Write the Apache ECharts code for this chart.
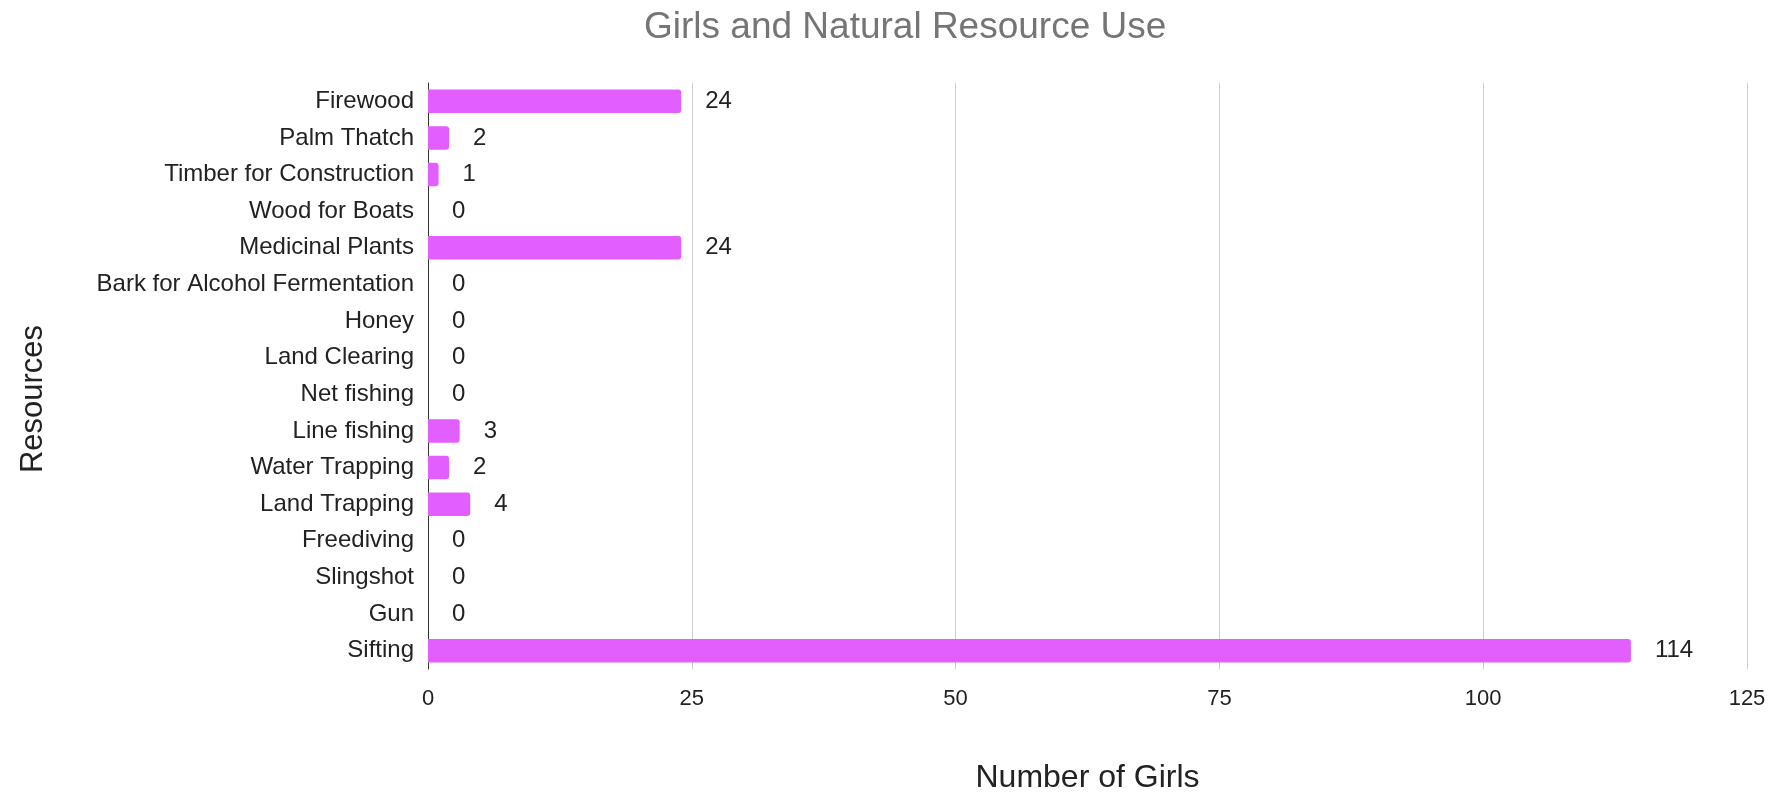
<!DOCTYPE html>
<html>
<head>
<meta charset="utf-8">
<script src="https://cdn.jsdelivr.net/npm/echarts@6/dist/echarts.min.js"></script>
<style>
html,body{margin:0;padding:0;background:#fff;}
#chart{width:1778px;height:793px;}
</style>
</head>
<body>
<div id="chart"></div>
<script>
const chartTitle = "Girls and Natural Resource Use";
const xAxisName = "Number of Girls";
const yAxisName = "Resources";
const categories = ["Firewood","Palm Thatch","Timber for Construction","Wood for Boats","Medicinal Plants","Bark for Alcohol Fermentation","Honey","Land Clearing","Net fishing","Line fishing","Water Trapping","Land Trapping","Freediving","Slingshot","Gun","Sifting"];
const girls = [24,2,1,0,24,0,0,0,0,3,2,4,0,0,0,114];
const xTicks = [0,25,50,75,100,125];

const FONT = "'Liberation Sans', Arial, Helvetica, sans-serif";
const chart = echarts.init(document.getElementById('chart'));
chart.setOption({
  backgroundColor: '#ffffff',
  animation: false,
  textStyle: { fontFamily: FONT },
  title: {
    text: chartTitle,
    left: 644, top: 9, padding: 0,
    textStyle: { fontFamily: FONT, fontSize: 37, fontWeight: 'normal', color: '#757575' }
  },
  grid: { left: 428, right: 31, top: 83, bottom: 124, containLabel: false, outerBoundsMode: 'none' },
  xAxis: {
    type: 'value',
    min: xTicks[0], max: xTicks[xTicks.length - 1], interval: xTicks[1] - xTicks[0],
    name: xAxisName, nameLocation: 'middle', nameGap: 93,
    nameTextStyle: { fontFamily: FONT, fontSize: 32, color: '#222222' },
    axisLine: { show: false },
    axisTick: { show: false },
    axisLabel: { fontFamily: FONT, fontSize: 22, color: '#222222', margin: 19 },
    splitLine: { show: true, lineStyle: { color: '#cccccc', width: 1 } }
  },
  yAxis: {
    type: 'category',
    data: categories,
    inverse: true,
    name: yAxisName, nameLocation: 'middle', nameGap: 379, nameRotate: 90,
    nameTextStyle: { fontFamily: FONT, fontSize: 31, color: '#222222', padding: [0, 46, 0, 0] },
    axisLine: { show: true, lineStyle: { color: '#333333', width: 1 } },
    axisTick: { show: false },
    axisLabel: { fontFamily: FONT, fontSize: 24, color: '#222222', margin: 14 },
    splitLine: { show: false }
  },
  series: [{
    type: 'bar',
    data: girls,
    barWidth: '64%',
    itemStyle: { color: '#E35EFF', borderRadius: [0, 3, 3, 0] },
    label: {
      show: true, position: 'right', distance: 24,
      fontFamily: FONT, fontSize: 24, color: '#222222'
    }
  }]
});
</script>
</body>
</html>
